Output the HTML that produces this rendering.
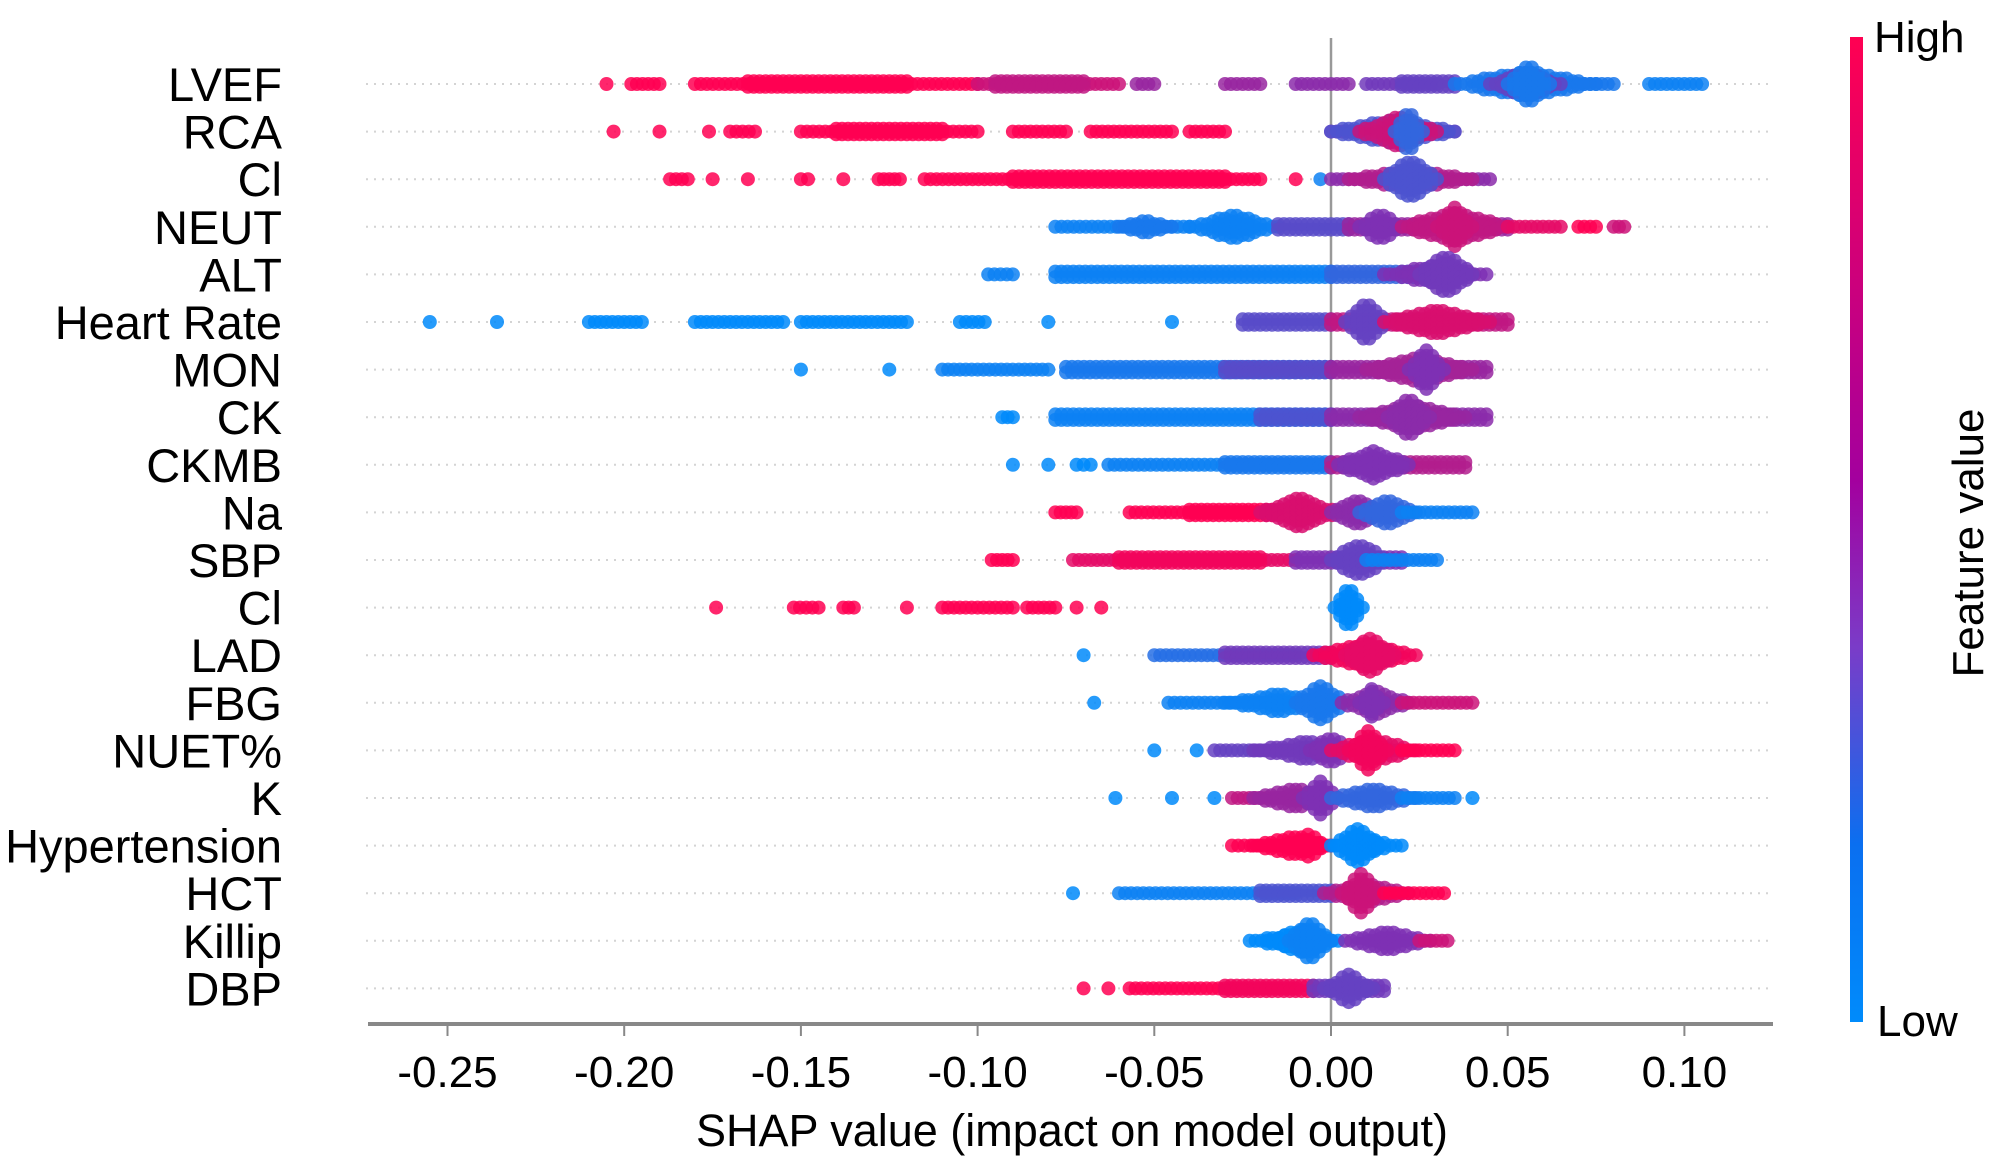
<!DOCTYPE html>
<html><head><meta charset="utf-8">
<style>
html,body{margin:0;padding:0;background:#fff;}
body{width:2000px;height:1168px;overflow:hidden;}
svg text{font-family:"Liberation Sans",Arial,sans-serif;fill:#000;}
</style></head>
<body>
<svg id="chart" width="2000" height="1168" viewBox="0 0 2000 1168" xmlns="http://www.w3.org/2000/svg">
<defs>
<linearGradient id="cbar" x1="0" y1="0" x2="0" y2="1">
<stop offset="0" stop-color="#ff0052"/>
<stop offset="0.45" stop-color="#a3009e"/>
<stop offset="0.62" stop-color="#7a3cc8"/>
<stop offset="0.82" stop-color="#0a6ff0"/>
<stop offset="1" stop-color="#008bfb"/>
</linearGradient>
</defs>
<g id="grid"></g>
<line x1="1331" y1="38" x2="1331" y2="1023" stroke="#999" stroke-width="2.5"/>
<g id="dots"></g>
<g id="labels"></g>
<line x1="368" y1="1024" x2="1773" y2="1024" stroke="#888" stroke-width="4"/>
<g id="xticks"></g>
<text x="1072" y="1146" font-size="45" text-anchor="middle">SHAP value (impact on model output)</text>
<rect x="1850" y="37" width="13" height="985" fill="url(#cbar)"/>
<text x="1874" y="52" font-size="44">High</text>
<text x="1877" y="1036" font-size="44">Low</text>
<text x="0" y="0" font-size="44" text-anchor="middle" transform="translate(1983,543) rotate(-90)">Feature value</text>
</svg>
<script>
const features = ["LVEF","RCA","Cl","NEUT","ALT","Heart Rate","MON","CK","CKMB","Na","SBP","Cl","LAD","FBG","NUET%","K","Hypertension","HCT","Killip","DBP"];
const xTicks = [-0.25,-0.20,-0.15,-0.10,-0.05,0.00,0.05,0.10];
const xTickLabels = ["-0.25","-0.20","-0.15","-0.10","-0.05","0.00","0.05","0.10"];
// segments: [shapStart, shapEnd, featureValue(0 low..1 high), stackCount]
const sLVEF = [[-0.205,-0.205,1,1],[-0.198,-0.19,1,1],[-0.18,-0.1,1,1],[-0.165,-0.12,1,2],[-0.1,-0.06,0.8,1],[-0.095,-0.07,0.75,2],[-0.055,-0.05,0.6,1],[-0.03,-0.02,0.6,1],[-0.01,0.005,0.55,1],[0.01,0.03,0.45,1],[0.02,0.035,0.4,2],[0.035,0.075,0.1,5],[0.045,0.065,0.4,5],[0.05,0.062,0.1,8],[0.07,0.08,0.1,1],[0.09,0.105,0.05,1]];
const sRCA = [[-0.203,-0.203,1,1],[-0.19,-0.19,1,1],[-0.176,-0.176,1,1],[-0.17,-0.163,1,1],[-0.15,-0.1,1,1],[-0.14,-0.11,1,2],[-0.09,-0.075,1,1],[-0.068,-0.045,1,1],[-0.04,-0.03,1,1],[0.0,0.035,0.6,1],[0.0,0.035,0.3,5],[0.008,0.03,0.8,6],[0.018,0.026,0.2,8]];
const sCl1 = [[-0.187,-0.182,1,1],[-0.175,-0.175,1,1],[-0.165,-0.165,1,1],[-0.15,-0.148,1,1],[-0.138,-0.138,1,1],[-0.128,-0.122,1,1],[-0.115,-0.02,1,1],[-0.09,-0.03,1,2],[-0.01,-0.01,1,1],[-0.003,-0.003,0.05,1],[0.0,0.045,0.55,1],[0.005,0.04,0.7,4],[0.015,0.03,0.3,8]];
const sNEUT = [[-0.078,-0.04,0.05,1],[-0.06,-0.045,0.1,3],[-0.04,-0.015,0.05,5],[-0.015,0.005,0.35,2],[0.005,0.05,0.6,2],[0.008,0.02,0.5,6],[0.02,0.05,0.75,6],[0.03,0.04,0.8,8],[0.05,0.065,0.9,1],[0.07,0.075,1,1],[0.08,0.083,0.8,1]];
const sALT = [[-0.097,-0.09,0.05,1],[-0.078,0.0,0.05,2],[0.0,0.03,0.2,2],[0.015,0.044,0.5,4],[0.025,0.04,0.45,8]];
const sHR = [[-0.255,-0.255,0,1],[-0.236,-0.236,0,1],[-0.21,-0.195,0,1],[-0.18,-0.155,0,1],[-0.15,-0.12,0,1],[-0.105,-0.098,0,1],[-0.08,-0.08,0,1],[-0.045,-0.045,0,1],[-0.025,-0.0,0.35,2],[0.0,0.05,0.75,2],[0.004,0.016,0.4,8],[0.015,0.045,0.85,5]];
const sMON = [[-0.15,-0.15,0,1],[-0.125,-0.125,0,1],[-0.11,-0.08,0.05,1],[-0.075,-0.0,0.1,2],[-0.03,0.0,0.35,2],[0.0,0.044,0.6,2],[0.01,0.04,0.65,5],[0.022,0.032,0.5,8]];
const sCK = [[-0.093,-0.09,0,1],[-0.078,0.0,0.05,2],[-0.02,0.0,0.3,2],[0.0,0.044,0.55,2],[0.008,0.038,0.6,5],[0.016,0.028,0.55,8]];
const sCKMB = [[-0.09,-0.09,0,1],[-0.08,-0.08,0,1],[-0.072,-0.068,0,1],[-0.063,0.0,0.05,1],[-0.03,0.0,0.1,2],[0.0,0.038,0.7,2],[0.002,0.022,0.5,6]];
const sNa = [[-0.078,-0.072,1,1],[-0.057,-0.02,1,1],[-0.04,-0.015,1,2],[-0.02,0.002,0.85,6],[0.0,0.015,0.55,5],[0.008,0.024,0.2,6],[0.02,0.04,0.05,1]];
const sSBP = [[-0.096,-0.09,1,1],[-0.073,-0.01,0.9,1],[-0.06,-0.02,0.95,2],[-0.01,0.02,0.5,2],[0.0,0.016,0.4,7],[0.01,0.03,0.05,1]];
const sCl2 = [[-0.174,-0.174,1,1],[-0.152,-0.145,1,1],[-0.138,-0.135,1,1],[-0.12,-0.12,1,1],[-0.11,-0.09,1,1],[-0.086,-0.078,1,1],[-0.072,-0.072,1,1],[-0.065,-0.065,1,1],[0.001,0.009,0,8]];
const sLAD = [[-0.07,-0.07,0,1],[-0.05,-0.01,0.15,1],[-0.03,0.0,0.45,2],[-0.005,0.024,0.95,5],[0.004,0.018,0.9,7]];
const sFBG = [[-0.067,-0.067,0,1],[-0.046,-0.01,0.05,1],[-0.03,0.0,0.05,4],[-0.01,0.004,0.1,7],[0.003,0.022,0.55,5],[0.008,0.015,0.5,6],[0.02,0.04,0.8,1]];
const sNUET = [[-0.05,-0.05,0,1],[-0.038,-0.038,0,1],[-0.033,-0.01,0.4,1],[-0.022,0.008,0.45,4],[-0.006,0.006,0.5,6],[0.0,0.024,0.9,5],[0.005,0.016,0.95,8],[0.02,0.035,1,1]];
const sK = [[-0.061,-0.061,0,1],[-0.045,-0.045,0,1],[-0.033,-0.033,0,1],[-0.028,-0.01,0.75,1],[-0.022,0.002,0.6,4],[-0.008,0.002,0.5,7],[0.0,0.024,0.2,4],[0.02,0.035,0.05,1],[0.04,0.04,0,1]];
const sHyp = [[-0.028,0.0,1,1],[-0.022,0.0,1,4],[-0.012,-0.001,1,5],[0.0,0.02,0,3],[0.001,0.014,0,7]];
const sHCT = [[-0.073,-0.073,0,1],[-0.06,-0.01,0.05,1],[-0.02,0.0,0.3,2],[-0.002,0.022,0.7,4],[0.003,0.014,0.8,8],[0.015,0.032,1,1]];
const sKillip = [[-0.023,0.0,0,3],[-0.018,0.002,0,5],[-0.012,0.0,0.05,8],[0.004,0.028,0.5,4],[0.025,0.033,0.8,1]];
const sDBP = [[-0.07,-0.07,1,1],[-0.063,-0.063,1,1],[-0.057,-0.01,1,1],[-0.03,-0.005,0.95,2],[-0.005,0.015,0.45,2],[-0.002,0.012,0.4,6]];
const segments = [sLVEF,sRCA,sCl1,sNEUT,sALT,sHR,sMON,sCK,sCKMB,sNa,sSBP,sCl2,sLAD,sFBG,sNUET,sK,sHyp,sHCT,sKillip,sDBP];

const NS = "http://www.w3.org/2000/svg";
const X0 = 1331, PX = 3534;
function xScale(v){ return X0 + v*PX; }
function yRow(i){ return 84 + i*47.6; }
function colorOf(t){
  const lo=[0,138,250], mid=[126,48,180], hi=[255,0,82];
  let a,b,u;
  if(t<0.5){a=lo;b=mid;u=t/0.5;}else{a=mid;b=hi;u=(t-0.5)/0.5;}
  return "rgb("+a.map((c,k)=>Math.round(c+(b[k]-c)*u)).join(",")+")";
}
const grid=document.getElementById("grid"), dots=document.getElementById("dots"), labels=document.getElementById("labels"), xt=document.getElementById("xticks");
features.forEach((f,i)=>{
  const y=yRow(i);
  const ln=document.createElementNS(NS,"line");
  
  
  ln.setAttribute("x1",366);ln.setAttribute("x2",1773);ln.setAttribute("y1",y);ln.setAttribute("y2",y);
  ln.setAttribute("stroke","#d4d4d4");ln.setAttribute("stroke-width","2");ln.setAttribute("stroke-dasharray","2 6");
  grid.appendChild(ln);
  const tx=document.createElementNS(NS,"text");
  
  
  tx.setAttribute("x",282);tx.setAttribute("y",y+17);tx.setAttribute("font-size","47");tx.setAttribute("text-anchor","end");
  tx.textContent=f;labels.appendChild(tx);
  const g=document.createElementNS(NS,"g");
  
  
  dots.appendChild(g);
  segments[i].forEach(s=>{
    const xa=xScale(s[0]), xb=xScale(s[1]);
    const col=colorOf(s[2]); const n=s[3];
    const steps=Math.max(0,Math.round((xb-xa)/6));
    for(let k=0;k<=steps;k++){
      const x= steps? xa+(xb-xa)*k/steps : xa;
      const u= steps? k/steps : 0.5;
      const m = n>=3 ? Math.max(1, Math.round(n*(1-Math.abs(2*u-1)*0.85))) : n;
      for(let j=0;j<m;j++){
        const off=(j-(m-1)/2)*5.5;
        const c=document.createElementNS(NS,"circle");
        
        
        c.setAttribute("cx",x.toFixed(1));c.setAttribute("cy",(y+off).toFixed(1));c.setAttribute("r","7");
        c.setAttribute("fill",col);c.setAttribute("fill-opacity","0.85");
        g.appendChild(c);
      }
    }
  });
});
xTicks.forEach((v,i)=>{
  const x=xScale(v);
  const t=document.createElementNS(NS,"line");
  
  
  t.setAttribute("x1",x);t.setAttribute("x2",x);t.setAttribute("y1",1024);t.setAttribute("y2",1036);
  t.setAttribute("stroke","#888");t.setAttribute("stroke-width","2");xt.appendChild(t);
  const l=document.createElementNS(NS,"text");
  
  
  l.setAttribute("x",x);l.setAttribute("y",1087);l.setAttribute("font-size","44");l.setAttribute("text-anchor","middle");
  l.textContent=xTickLabels[i];xt.appendChild(l);
});
</script>
</body></html>
